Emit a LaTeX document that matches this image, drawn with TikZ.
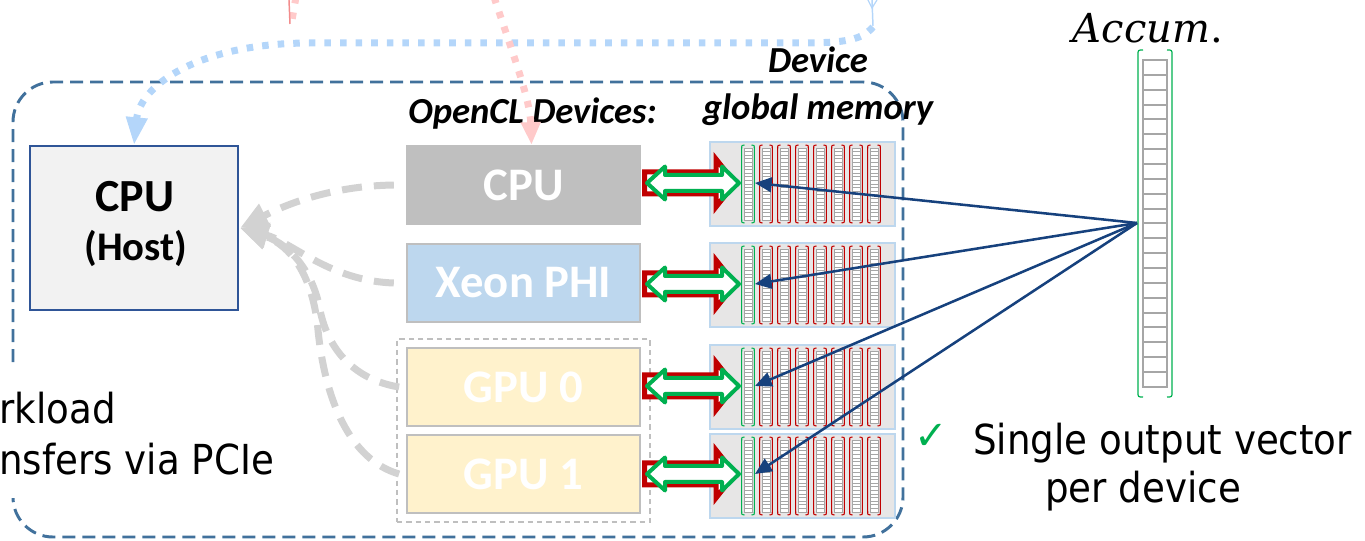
\documentclass[tikz,border=0pt]{standalone}
\usepackage{fontspec}
\setmainfont{Carlito}
\newfontfamily\tah[FakeStretch=0.9]{DejaVu Sans}
\newfontfamily\dejv{DejaVu Sans}
\newfontfamily\dserif{DejaVu Serif}
\usetikzlibrary{arrows.meta}
\definecolor{boxblue}{RGB}{65,113,156}
\definecolor{hostblue}{RGB}{47,85,151}
\definecolor{hostfill}{RGB}{242,242,242}
\definecolor{devgray}{RGB}{191,191,191}
\definecolor{xeonblue}{RGB}{189,215,238}
\definecolor{gpuyel}{RGB}{255,242,204}
\definecolor{memfill}{RGB}{231,230,230}
\definecolor{memedge}{RGB}{189,215,238}
\definecolor{cellgray}{RGB}{166,166,166}
\definecolor{colred}{RGB}{192,0,0}
\definecolor{colgreen}{RGB}{0,176,80}
\definecolor{arrblue}{RGB}{22,65,125}
\definecolor{curvegray}{RGB}{210,210,210}
\definecolor{dotblue}{RGB}{180,214,250}
\definecolor{dotpink}{RGB}{255,202,202}
\definecolor{salmon}{RGB}{242,140,140}
\begin{document}
\begin{tikzpicture}[x=0.75pt,y=-0.75pt,
  devbox/.style={draw=devgray, line width=1.8pt, minimum width=174.75pt, minimum height=58.5pt,
     text=white, font=\bfseries\fontsize{35}{40}\selectfont, inner sep=0},
  lbl/.style={font=\bfseries\itshape\fontsize{27.5}{32}\selectfont, inner sep=0},
  tx/.style={font=\tah\fontsize{31}{36}\selectfont, inner sep=0},
  gcurve/.style={draw=curvegray, line width=5.25pt, dash pattern=on 15pt off 9pt,
     -{Triangle[length=21pt,width=18pt,fill=curvegray]}},
  bluedot/.style={draw=dotblue, line width=5.25pt, dash pattern=on 4.9pt off 6.8pt,
     -{Triangle[length=21pt,width=15pt,fill=dotblue]}},
  pinkdot/.style={draw=dotpink, line width=5.25pt, dash pattern=on 4.9pt off 6.8pt,
     -{Triangle[length=17pt,width=14pt,fill=dotpink]}},
  bluearr/.style={draw=arrblue, line width=1.9pt, -{Triangle[length=12.5pt,width=11pt]}},
  redarr/.style={draw=colred, line width=3.75pt, fill=white, miter limit=4},
  grnarr/.style={draw=colgreen, line width=3pt, fill=white, line join=round},
  cell/.style={draw=cellgray, fill=white, line width=0.6pt},
  acccell/.style={draw=cellgray, fill=white, line width=1.5pt}
]
\useasboundingbox (0,0) rectangle (1365,541);

% system boundary
\node[draw=boxblue, line width=2.2pt, dash pattern=on 9.75pt off 5.25pt, rounded corners=30pt,
  minimum width=667.5pt, minimum height=341.25pt, inner sep=0] (sys) at (458,309.5) {};

% workload text (covers the left edge)
\fill[white] (0,368) rectangle (280,498);
\node[tx, anchor=base west] (wl1) at (-1,424) {rkload};
\node[tx, anchor=base west] (wl2) at (-1,475) {nsfers via PCIe};

% GPU group
\node[draw=devgray, line width=1.1pt, dash pattern=on 4pt off 3pt, minimum width=189.75pt,
  minimum height=137.25pt, inner sep=0] (gpug) at (523.5,430.5) {};

% devices
\node[devbox, fill=devgray] (dcpu) at (523.5,185) {CPU};
\node[devbox, fill=xeonblue] (dxeon) at (523.5,283) {Xeon PHI};
\node[devbox, fill=gpuyel] (dgpu0) at (523.5,387) {GPU 0};
\node[devbox, fill=gpuyel] (dgpu1) at (523.5,474) {GPU 1};

% host
\node[draw=hostblue, fill=hostfill, line width=1.1pt, minimum width=156pt, minimum height=123pt,
  inner sep=0] (host) at (134,228) {};
\node[font=\bfseries\fontsize{34.5}{40}\selectfont, inner sep=0, anchor=base] (hostl1) at (135,212) {CPU};
\node[font=\bfseries\fontsize{30.5}{36}\selectfont, inner sep=0, anchor=base] (hostl2) at (136,261) {(Host)};

% labels
\node[lbl, anchor=base west] (ocl) at (408,124) {OpenCL Devices:};
\node[lbl, anchor=base] (dgm1) at (818,73) {Device};
\node[lbl, anchor=base] (dgm2) at (818,120) {global memory};

% gray dashed curves to host
\draw[gcurve] ([xshift=-9pt]dcpu.west) .. controls (330,186) and (285,205) .. ([xshift=1pt]host.east);
\draw[gcurve] ([xshift=-9pt]dxeon.west) .. controls (330,281) and (292,242) .. ([xshift=1pt]host.east);
\draw[gcurve] ([xshift=-5pt]dgpu0.west) .. controls (355,380) and (328,350) .. (320,310)
   .. controls (314,275) and (292,245) .. ([xshift=1pt]host.east);
\draw[gcurve] ([xshift=-5pt]dgpu1.west) .. controls (350,460) and (325,400) .. (318,330)
   .. controls (313,275) and (290,245) .. ([xshift=1pt]host.east);

% top dotted arrows
\coordinate (btop) at (873,27);
\draw[bluedot] (btop) .. controls (860,42) and (840,43) .. (790,43) -- (310,43)
   .. controls (200,43) and (140,85) .. (host.north);
\draw[draw=dotblue, line width=1.1pt] (872,0) -- (873,26);
\draw[draw=dotblue, line width=0.9pt] (868,0) -- (872,8) -- (877,0);
\coordinate (ptop) at (494,-3);
\draw[pinkdot] (ptop) .. controls (515,60) and (530,100) .. ([xshift=6pt]dcpu.north);
\coordinate (ptop2) at (296,-3);
\coordinate (pbot2) at (291,26);
\draw[draw=dotpink, line width=5.25pt, dash pattern=on 4.9pt off 6.8pt] (ptop2) -- (pbot2);
\draw[draw=salmon, line width=1.1pt] (289,0) -- (290,24);

% memory blocks
\foreach \r/\t/\b/\c in {1/142/226/183, 2/243/327/284, 3/345/429/386, 4/434/518/474}{
  \node[draw=memedge, fill=memfill, line width=1.1pt, minimum width=138.75pt, minimum height=63pt,
     inner sep=0] (mem\r) at (802.5,{(\t+\b)/2}) {};
  \foreach \i in {0,...,7}{
    \pgfmathsetmacro{\xl}{741+18*\i}
    \pgfmathsetmacro{\hh}{(\b-\t-12)/20}
    \foreach \k in {0,...,19}{
      \pgfmathsetmacro{\ya}{\t+6+\k*\hh}
      \draw[cell] (\xl+3,\ya) rectangle (\xl+11,\ya+\hh);
    }
    \ifnum\i=0 \def\bc{colgreen}\else\def\bc{colred}\fi
    \draw[draw=\bc, line width=0.8pt] (\xl+3.5,\t+3) .. controls (\xl+0.7,\t+3) .. (\xl+0.7,\t+7)
       -- (\xl+0.7,\b-7) .. controls (\xl+0.7,\b-3) .. (\xl+3.5,\b-3);
    \draw[draw=\bc, line width=0.8pt] (\xl+10.5,\t+3) .. controls (\xl+13.3,\t+3) .. (\xl+13.3,\t+7)
       -- (\xl+13.3,\b-7) .. controls (\xl+13.3,\b-3) .. (\xl+10.5,\b-3);
  }
  \coordinate (m\r) at (755,\c);
  % transfer arrows
  \draw[redarr] (644.5,\c-11) -- (716,\c-11) -- (716,\c-24) -- (735,\c) -- (716,\c+24)
     -- (716,\c+11) -- (644.5,\c+11) -- cycle;
  \draw[grnarr] (647,\c) -- (665,\c-16.5) -- (665,\c-8) -- (722,\c-8) -- (722,\c-16.5) -- (739,\c)
     -- (722,\c+16.5) -- (722,\c+8) -- (665,\c+8) -- (665,\c+16.5) -- cycle;
}

% accumulator vector
\foreach \k in {0,...,21}{
  \draw[acccell] (1143,{60+14.86*\k}) rectangle (1167,{60+14.86*(\k+1)});
}
\draw[draw=colgreen, line width=0.9pt] (1143,50) .. controls (1138,50) .. (1138,55) -- (1138,392)
   .. controls (1138,397) .. (1143,397);
\draw[draw=colgreen, line width=0.9pt] (1167,50) .. controls (1172,50) .. (1172,55) -- (1172,392)
   .. controls (1172,397) .. (1167,397);
\node[inner sep=0, anchor=base, font=\dserif\fontsize{30}{34}\selectfont] (acctext) at (1148,43) {\itshape Accum\upshape.};
\coordinate (acc) at (1137,223);

% accumulation connectors
\foreach \r in {1,2,3,4}{ \draw[bluearr] (acc) -- (m\r); }

% right text
\node[inner sep=0, anchor=base, text=colgreen, font=\dejv\fontsize{30}{34}\selectfont] (chk) at (931,450) {✓};
\node[tx, anchor=base west] (s1) at (973,455) {Single output vector};
\node[tx, anchor=base west] (s2) at (1045,503) {per device};
\end{tikzpicture}
\end{document}
